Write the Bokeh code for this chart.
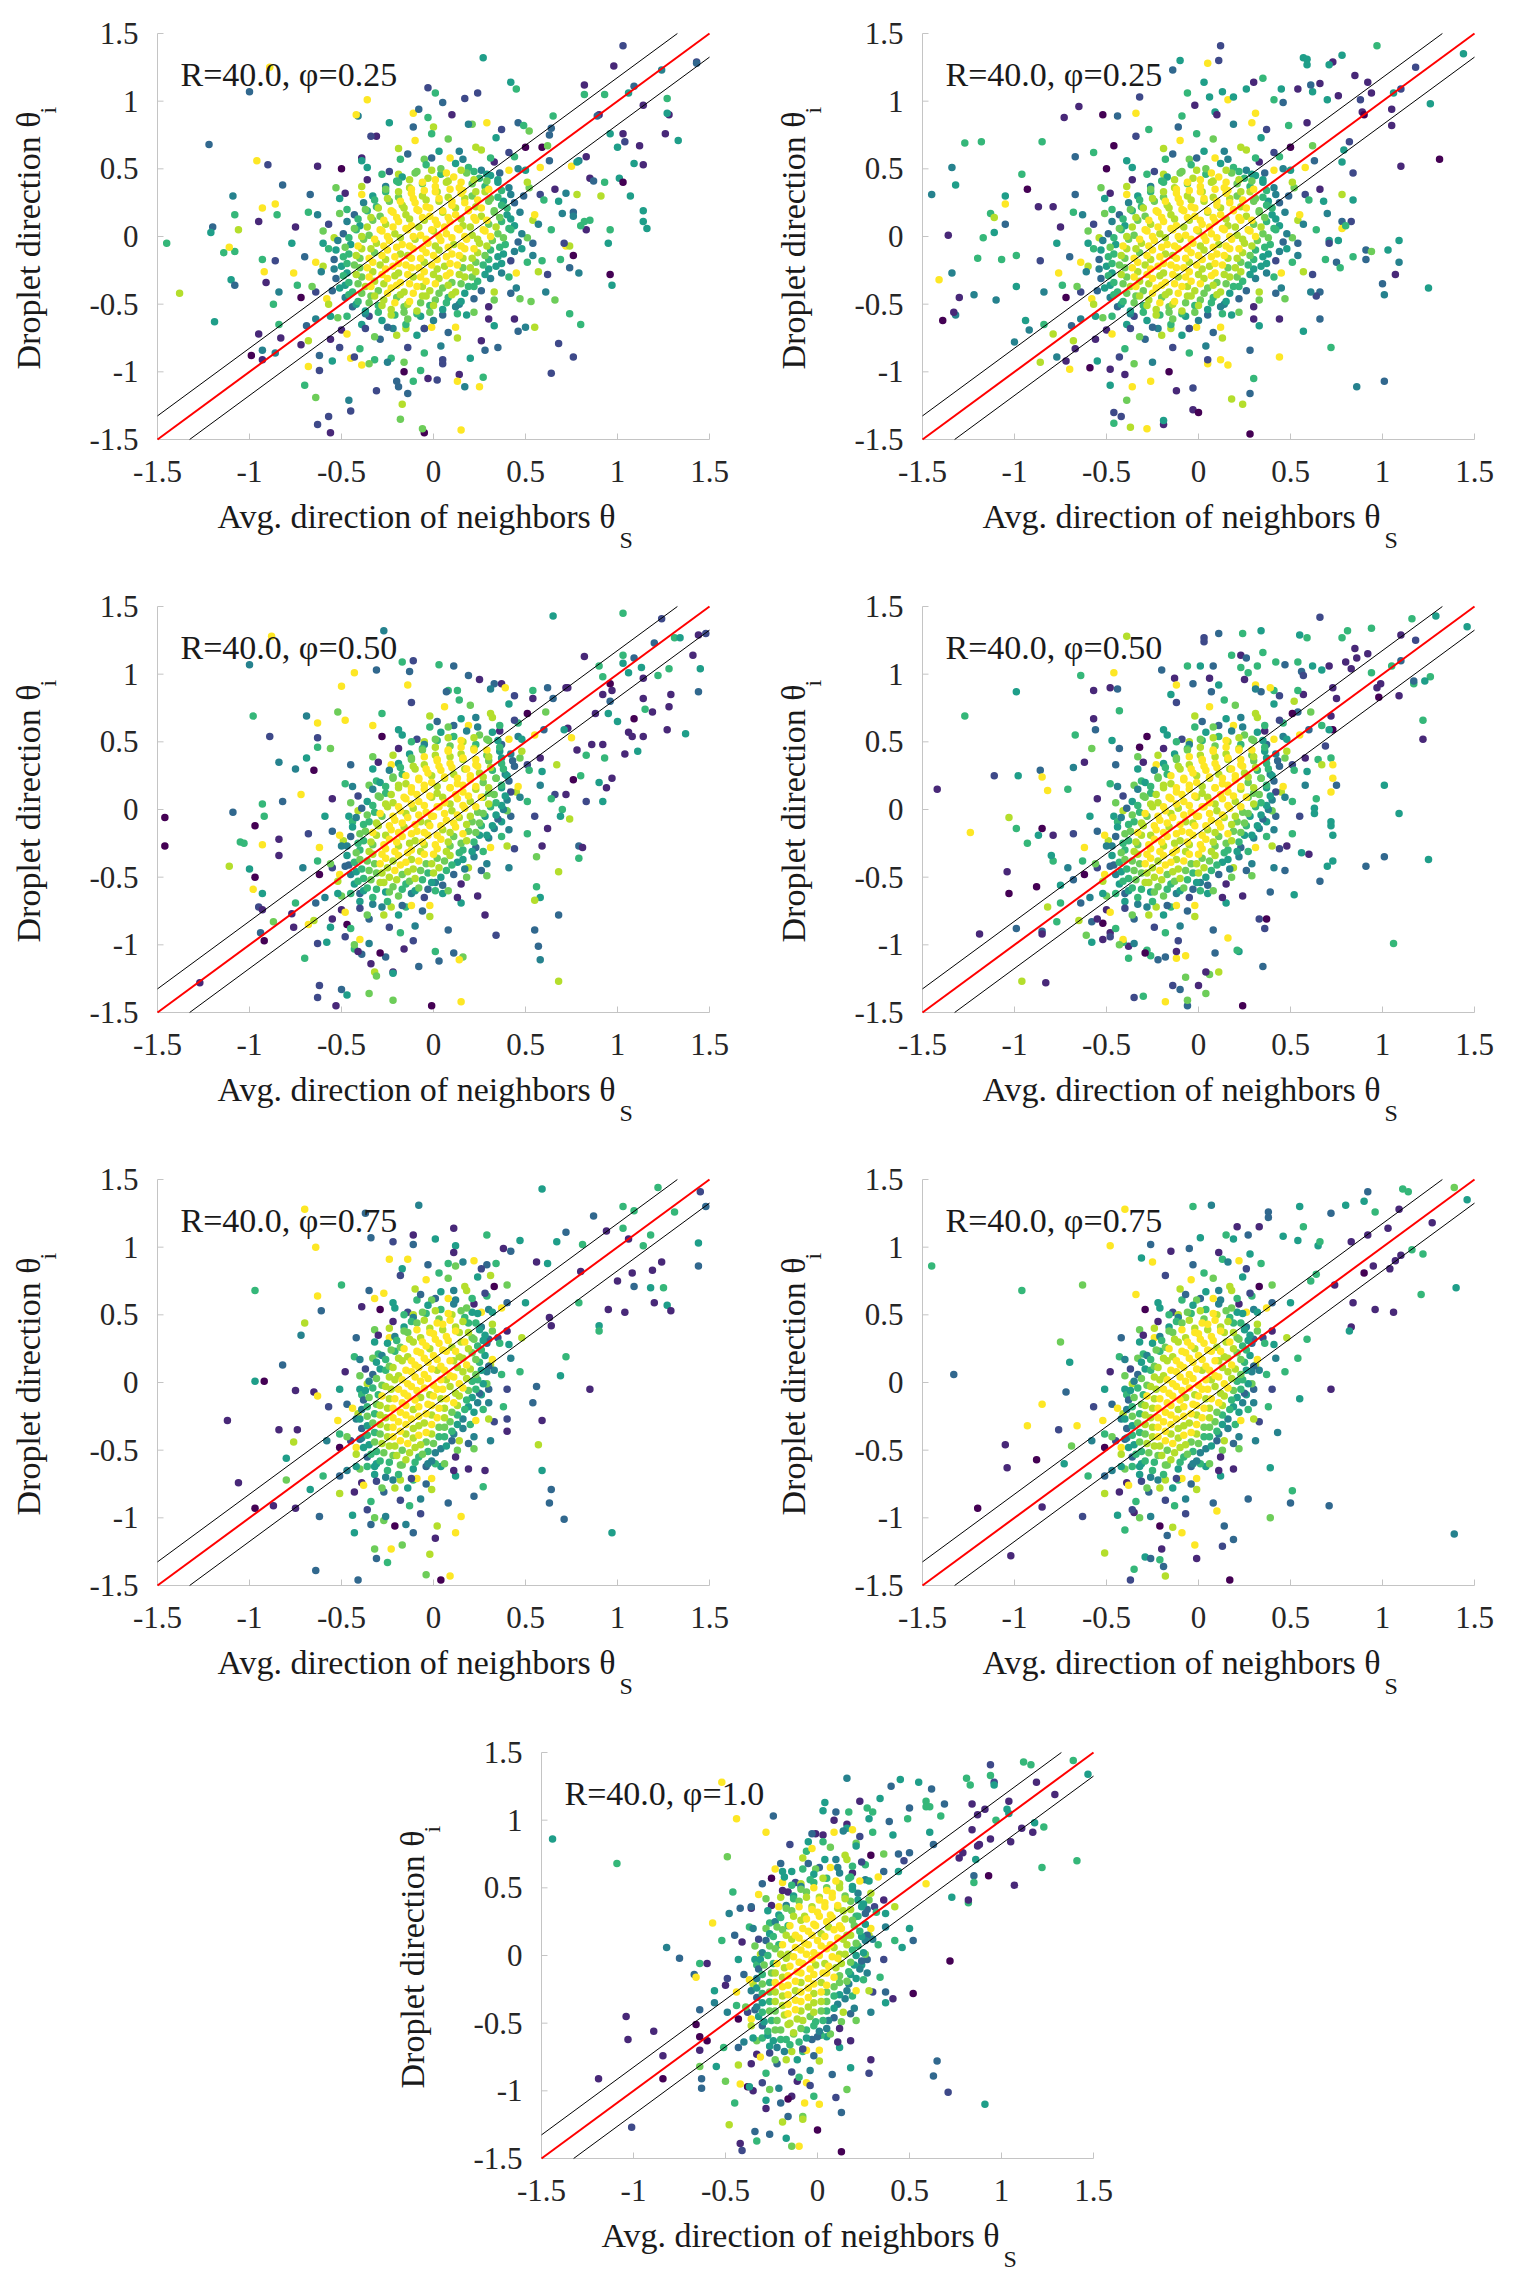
import math
from bokeh.plotting import figure
from bokeh.layouts import column, row
from bokeh.models import Label, ColumnDataSource, Range1d
from bokeh.core.properties import value
from bokeh.embed import file_html
from bokeh.resources import INLINE

# viridis colour bins (index 0..9)
PALETTE = ["#440154", "#482878", "#3e4989", "#31688e", "#26828e",
           "#1f9e89", "#35b779", "#6dcd59", "#b4de2c", "#fde725"]

TICKS = [-1.5, -1, -0.5, 0, 0.5, 1, 1.5]
TICK_LABELS = ["-1.5", "-1", "-0.5", "0", "0.5", "1", "1.5"]
AX_MIN, AX_MAX = -1.5, 1.5
BAND = math.pi / 18          # +/- 10 degree band around the diagonal

X_LABEL = "Avg. direction of neighbors θ"
X_SUB = "S"
Y_LABEL = "Droplet direction θ"
Y_SUB = "i"
R_VALUE = "40.0"
PHI_LABELS = ["0.25", "0.25", "0.50", "0.50", "0.75", "0.75", "1.0"]

# points: (theta_S*100, theta_i*100, colour bin)
OUT_TL = [(103,141,2),(143,129,2),(143,128,3),(98,126,1),(124,123,4),(109,111,3),(82,112,1),(82,105,6),(93,105,6),(106,106,5),(127,102,6),(114,97,1),(128,90,1),(127,91,5),(90,90,1),(89,89,3),(96,76,5),(103,76,1),(112,67,1),(126,76,1),(133,71,5),(104,70,2),(100,66,5),(83,59,1),(79,56,4),(109,54,5),(114,53,1),(75,52,9),(85,43,1),(87,41,3),(101,43,5),(93,40,6),(103,40,0),(72,32,4),(91,30,8),(107,30,5),(76,18,3),(76,15,4),(82,11,6),(85,12,6),(114,19,5),(114,11,5),(116,6,5),(96,5,6),(83,5,1),(72,-7,9),(74,-7,8),(95,-5,5),(76,-14,0),(74,-23,3),(79,-27,4),(96,-28,0),(97,-36,5),(59,-18,6),(66,-47,7),(53,-48,7),(74,-57,6),(80,-65,6),(55,-67,8),(50,-67,4),(46,-70,3),(68,-79,2),(76,-89,2),(64,-101,2),(35,-82,3),(26,-77,1),(27,-104,6),(25,-111,9),(15,-143,9),(17,-111,4),(14,-102,1),(13,-107,9),(20,-90,5),(5,-94,2),(2,-106,2),(-5,-145,0),(-6,-142,7),(-3,-105,1),(-7,-99,6),(-11,-107,6),(-18,-135,7),(-17,-124,8),(-14,-116,3),(-19,-111,3),(-20,-107,3),(-31,-114,2),(-16,-93,7),(-23,-90,6),(-32,-91,6),(-39,-95,9),(-45,-90,9),(-51,-82,2),(-46,-121,4),(-45,-129,2),(-56,-145,1),(-57,-133,2),(-63,-139,2),(-64,-119,7),(-70,-110,6),(-62,-99,2),(-68,-96,9),(-62,-88,3),(-72,-80,1),(-83,-75,1),(-86,-86,4),(-95,-72,1),(-93,-84,4),(-99,-88,0),(-93,-91,1),(-119,-63,5),(-138,-42,8),(-145,-5,6),(-114,-12,6),(-108,-11,6),(-111,-8,9),(-110,-32,5),(-108,-36,3),(-120,7,3),(-121,3,5),(-106,5,8),(-108,16,6),(-109,30,4),(-122,68,3),(-100,107,3),(-89,125,9),(-90,53,2),(-96,56,9),(-95,11,1),(-93,21,9),(-82,38,3),(-85,16,6),(-86,24,9),(-93,-17,6),(-92,-26,9),(-91,-34,1),(-87,-50,6),(-63,52,1),(-39,58,1),(-41,89,4),(-36,101,9),(-42,90,9),(-31,74,1),(-24,84,5),(-11,91,9),(-3,88,6),(-8,94,3),(-3,110,2),(1,106,6),(5,99,3),(17,102,2),(24,106,2),(27,132,5),(0,81,8),(21,83,7),(42,114,5),(45,109,6),(46,84,3),(65,89,6),(64,80,3),(52,78,7),(63,75,3),(59,66,0)]

OUT_TR = [(12,141,2),(11,130,2),(5,128,9),(-10,130,5),(-14,123,3),(97,141,6),(78,134,5),(57,132,5),(59,131,5),(59,127,5),(73,129,1),(71,127,5),(118,125,2),(144,135,5),(85,119,1),(92,114,1),(94,106,1),(110,109,2),(106,106,5),(126,98,5),(105,94,1),(105,82,1),(89,92,1),(90,90,0),(88,101,2),(76,104,1),(66,113,1),(62,107,5),(61,112,3),(54,109,1),(70,101,5),(59,84,1),(82,70,2),(79,64,5),(110,52,1),(131,57,0),(84,47,2),(84,27,5),(78,11,3),(83,11,2),(78,6,9),(76,-3,5),(71,-3,5),(109,-3,5),(103,-10,5),(91,-10,3),(91,-17,3),(94,-11,7),(84,-15,6),(109,-19,4),(75,-19,3),(77,-23,6),(107,-28,1),(100,-35,3),(101,-43,4),(125,-38,5),(66,-41,3),(64,-44,2),(66,-61,3),(57,-70,5),(72,-82,6),(44,-89,9),(101,-107,3),(86,-111,4),(28,-146,0),(24,-124,8),(18,-120,8),(30,-105,6),(28,-116,3),(16,-95,9),(12,-91,9),(5,-94,9),(-3,-112,2),(-3,-128,1),(0,-130,0),(-12,-114,1),(-19,-139,1),(-19,-136,5),(-28,-142,9),(-37,-141,8),(-46,-138,6),(-46,-130,2),(-42,-133,2),(-39,-121,7),(-48,-110,5),(-36,-111,9),(-26,-107,9),(-48,-98,1),(-40,-102,1),(-59,-97,0),(-70,-98,9),(-72,-92,1),(-86,-93,8),(-79,-72,8),(-77,-89,4),(-67,-83,1),(-100,-78,4),(-92,-69,4),(-94,-62,5),(-139,-62,0),(-132,-58,4),(-133,-56,1),(-130,-45,1),(-122,-43,4),(-110,-47,4),(-141,-32,9),(-134,-27,4),(-120,-16,6),(-107,-17,6),(-99,-14,6),(-99,-37,5),(-117,-1,6),(-136,1,1),(-111,3,5),(-105,9,3),(-113,17,6),(-111,14,8),(-105,24,9),(-105,30,5),(-145,31,4),(-132,38,5),(-134,51,4),(-127,69,6),(-118,70,6),(-85,70,6),(-96,46,6),(-93,35,0),(-87,22,1),(-79,22,1),(-73,88,1),(-65,96,1),(-52,90,0),(-44,89,3),(-34,91,9),(-32,103,2),(-67,59,3),(-46,67,0),(-57,62,6),(-27,79,6),(-9,89,6),(-2,97,1),(9,92,5),(16,101,9),(19,103,5),(13,107,5),(3,114,5),(30,114,1),(35,117,6),(26,109,5),(31,91,9),(41,101,6),(45,109,5),(46,99,3),(-6,106,6),(6,103,5)]

OUT_ML = [(65,143,5),(103,145,6),(124,141,2),(144,129,1),(148,130,2),(120,123,3),(131,127,6),(134,127,5),(141,114,1),(103,114,6),(82,113,1),(109,112,3),(103,108,5),(90,106,6),(106,101,5),(113,105,5),(128,104,6),(145,104,5),(114,97,1),(122,99,6),(92,98,6),(96,93,0),(97,88,1),(72,90,1),(62,90,3),(54,82,1),(65,82,3),(92,85,1),(96,80,3),(88,71,1),(95,71,5),(114,82,1),(144,87,3),(129,85,1),(128,76,1),(119,72,1),(115,74,6),(109,67,0),(100,65,5),(127,59,1),(137,56,5),(106,57,1),(108,54,1),(114,54,1),(111,43,5),(104,41,1),(92,48,1),(86,48,1),(78,44,1),(83,40,6),(93,38,6),(97,23,1),(94,16,1),(90,20,5),(92,6,5),(83,6,2),(76,22,0),(80,25,6),(75,53,9),(73,60,1),(66,11,2),(72,11,1),(70,0,6),(69,-5,5),(74,-7,8),(79,-27,3),(81,-28,1),(79,-36,6),(62,-14,1),(59,-27,1),(56,-35,7),(68,-46,8),(56,-57,6),(58,-65,5),(55,-67,8),(68,-78,3),(55,-89,3),(57,-101,3),(58,-111,4),(68,-127,8),(34,-93,2),(28,-78,1),(15,-142,9),(-1,-145,0),(16,-109,7),(14,-111,9),(11,-106,3),(3,-112,3),(1,-105,6),(-8,-116,3),(-16,-103,1),(-26,-109,3),(-22,-120,1),(-22,-121,5),(-32,-120,8),(-31,-123,7),(-35,-136,7),(-22,-141,7),(-39,-107,3),(-34,-114,1),(-43,-103,6),(-40,-96,9),(-41,-105,1),(-47,-137,5),(-50,-133,3),(-53,-145,1),(-63,-139,2),(-62,-130,2),(-63,-99,2),(-70,-110,6),(-56,-87,5),(-47,-85,0),(-76,-87,1),(-77,-77,1),(-68,-85,9),(-87,-83,7),(-92,-97,0),(-94,-91,3),(-95,-72,2),(-93,-74,1),(-127,-128,1),(-98,-59,9),(-93,-62,5),(-100,-44,5),(-97,-50,0),(-111,-42,8),(-105,-24,6),(-103,-25,6),(-93,-26,9),(-97,-12,0),(-92,-5,6),(-93,4,6),(-109,-2,3),(-146,-6,0),(-146,-27,0),(-82,6,3),(-84,-22,1),(-84,-34,1),(-84,35,4),(-89,54,2),(-98,69,6),(-100,107,4),(-69,69,4),(-63,64,9),(-63,53,2),(-63,46,6),(-69,38,5),(-75,30,4),(-65,29,0),(-72,11,9),(-56,45,7),(-52,72,7),(-48,66,9),(-50,91,9),(-43,101,9),(-31,103,3),(-27,132,4),(-88,128,9),(-14,92,9),(-13,102,3),(-11,110,2),(-17,109,6),(3,107,6),(11,106,3),(19,99,3),(33,93,3),(37,93,1),(8,88,6),(13,88,6),(-28,71,6),(-33,62,9),(73,90,1)]

OUT_MR = [(66,142,2),(116,141,6),(129,143,5),(146,135,5),(94,134,6),(81,132,6),(78,127,6),(110,129,1),(118,125,2),(55,129,5),(59,127,6),(85,119,1),(86,112,1),(92,115,1),(80,109,1),(83,104,1),(71,106,1),(67,103,5),(62,106,5),(54,109,6),(56,102,3),(57,99,2),(94,101,6),(105,106,6),(110,110,3),(126,98,6),(123,95,5),(117,93,6),(117,95,3),(99,93,1),(97,90,1),(109,84,1),(98,83,0),(73,90,1),(75,82,1),(57,85,1),(52,80,8),(54,72,3),(72,69,1),(67,62,6),(73,59,0),(122,66,6),(122,52,1),(69,47,2),(72,38,6),(65,37,6),(73,33,9),(73,23,9),(75,18,3),(72,13,9),(101,18,5),(109,-3,5),(63,1,5),(63,-3,5),(72,-9,5),(72,-12,5),(73,-19,5),(60,-33,1),(56,-32,5),(48,-27,1),(47,-45,3),(66,-53,3),(73,-38,5),(70,-42,5),(91,-42,3),(101,-35,3),(125,-37,5),(52,-63,5),(39,-61,3),(37,-81,0),(36,-88,2),(33,-81,2),(35,-116,3),(106,-99,6),(24,-145,0),(22,-105,5),(21,-104,6),(16,-95,9),(11,-120,8),(6,-122,7),(9,-106,3),(4,-120,1),(0,-130,1),(4,-136,7),(-6,-145,3),(-6,-141,7),(-10,-133,3),(-7,-124,7),(-14,-130,2),(-18,-142,9),(-30,-138,6),(-35,-139,2),(-12,-110,9),(-18,-109,3),(-12,-105,1),(-7,-108,9),(-22,-111,3),(-26,-108,6),(-28,-104,6),(-38,-110,6),(-38,-101,1),(-41,-98,6),(-41,-96,9),(-52,-96,1),(-61,-93,7),(-48,-91,1),(-52,-84,0),(-58,-83,3),(-85,-90,3),(-85,-92,1),(-99,-88,3),(-119,-92,1),(-96,-127,8),(-83,-128,1),(-77,-83,6),(-82,-72,8),(-88,-57,0),(-103,-62,0),(-104,-46,1),(-75,-56,5),(-68,-52,3),(-79,-38,6),(-80,-34,5),(-93,-25,6),(-99,-14,6),(-103,-6,8),(-124,-17,9),(-142,15,1),(-111,25,2),(-98,25,5),(-86,29,3),(-85,24,9),(-82,14,9),(-85,-14,0),(-87,-19,5),(-79,-19,1),(-99,87,5),(-127,69,6),(-64,99,6),(-57,88,1),(-48,90,1),(-44,89,3),(-46,101,9),(-39,128,8),(-43,73,6),(-57,67,1),(-56,59,3),(-67,55,6),(-58,45,7),(-47,51,5),(-43,45,3),(-32,46,0),(-68,31,4),(-71,15,6),(-62,35,1),(3,127,2),(3,124,2),(11,130,3),(24,130,6),(34,132,5),(23,114,1),(26,112,3),(35,116,6),(18,114,6),(8,106,3),(1,106,5),(-6,106,6),(-20,103,3),(-13,97,1),(-12,92,9),(-15,85,5),(-3,93,3),(6,97,1),(11,92,5),(23,105,6),(27,101,6),(32,106,6),(42,109,6),(47,107,3),(31,92,9),(41,88,6),(34,87,3)]

OUT_LL = [(59,143,5),(122,144,6),(145,141,2),(148,130,3),(103,130,6),(109,127,6),(87,123,3),(131,126,6),(-8,131,4),(-70,128,9),(-64,100,9),(-37,125,3),(-34,107,3),(-22,104,2),(-11,109,1),(-11,102,3),(1,106,5),(11,114,1),(12,101,5),(29,109,6),(47,105,5),(38,99,1),(42,97,3),(67,104,5),(81,102,6),(94,112,1),(103,114,6),(72,111,3),(118,109,6),(114,101,6),(106,106,1),(144,103,5),(124,89,1),(144,86,3),(108,81,1),(119,83,1),(80,82,1),(100,75,1),(109,71,3),(118,70,5),(125,70,6),(120,59,1),(127,57,5),(129,53,1),(95,54,1),(104,52,1),(90,42,5),(90,38,6),(72,19,6),(69,5,5),(85,-5,1),(56,-3,3),(54,-15,3),(59,-28,1),(57,-46,8),(59,-65,5),(64,-79,3),(63,-89,3),(71,-101,3),(97,-111,5),(40,-27,2),(40,-36,1),(28,-65,1),(27,-77,6),(22,-84,3),(15,-99,9),(12,-111,9),(2,-106,8),(1,-115,1),(9,-143,9),(4,-146,0),(-4,-142,7),(-11,-111,3),(-15,-105,4),(-17,-120,7),(-2,-127,8),(-23,-123,9),(-25,-133,6),(-31,-130,3),(-32,-123,7),(-41,-146,3),(-64,-139,3),(-43,-111,5),(-34,-105,3),(-27,-102,7),(-62,-99,3),(-75,-93,1),(-87,-91,1),(-97,-93,0),(-106,-74,1),(-80,-72,7),(-67,-79,5),(-80,-56,5),(-76,-44,8),(-74,-35,1),(-84,-35,1),(-112,-28,1),(-75,-6,1),(-92,1,0),(-97,1,5),(-82,13,3),(-65,-7,1),(-63,-10,9),(-97,68,6),(-72,35,4),(-70,44,8),(-61,53,3),(-63,64,9),(-50,72,6),(-35,68,3),(-27,66,9),(-32,62,9),(-39,56,1),(-24,91,9),(-14,91,9),(-17,84,5),(8,88,6),(12,86,7),(29,87,3),(31,79,8),(56,89,1),(62,88,5),(79,59,6),(63,48,1),(64,42,1)]

OUT_LR = [(111,143,6),(114,141,6),(139,144,7),(146,135,5),(92,141,3),(90,134,5),(80,131,5),(55,130,5),(57,115,6),(38,126,3),(38,122,3),(7,131,4),(-3,130,6),(-40,128,9),(72,125,3),(109,128,1),(96,126,6),(127,118,1),(103,114,1),(92,109,1),(83,104,1),(116,98,6),(122,95,6),(110,94,1),(107,90,1),(104,84,1),(95,86,1),(90,81,0),(74,72,1),(61,75,6),(64,80,6),(46,108,5),(54,105,5),(65,101,5),(66,104,6),(33,115,1),(21,115,1),(27,109,3),(19,106,5),(15,109,6),(1,107,5),(-5,99,3),(-15,97,1),(-26,102,3),(-48,101,9),(-31,92,5),(-25,89,9),(-96,68,6),(-145,86,6),(-63,72,7),(-34,65,9),(13,91,6),(28,95,5),(121,65,6),(140,70,5),(106,52,1),(96,54,1),(84,59,1),(83,41,1),(82,38,5),(59,32,6),(54,18,6),(72,-5,1),(55,-12,5),(43,-37,4),(39,-63,5),(51,-80,6),(50,-89,3),(39,-100,7),(27,-86,3),(14,-106,3),(19,-116,3),(13,-121,2),(-1,-130,1),(-2,-120,9),(17,-146,0),(10,-95,9),(-18,-143,8),(-19,-136,3),(-21,-131,6),(-29,-129,5),(-37,-146,2),(-35,-138,6),(-26,-130,3),(-20,-123,1),(-9,-111,9),(-14,-107,8),(-17,-113,3),(-51,-126,8),(-40,-109,6),(-63,-99,2),(-35,-96,1),(-102,-128,1),(-120,-93,0),(-104,-63,1),(-105,-46,1),(-88,-57,0),(-85,-92,1),(-93,-32,9),(-85,-16,9),(-72,-7,3),(-133,6,3),(-70,15,5),(-75,30,7),(-66,-32,9),(-76,-35,2),(-69,-47,7),(-73,-60,5),(71,-91,3),(139,-112,4)]

OUT_B = [(94,141,2),(112,143,6),(116,141,6),(139,144,6),(147,134,5),(94,133,6),(96,128,2),(96,126,5),(81,131,6),(83,126,6),(119,128,1),(129,119,1),(104,114,1),(84,112,1),(91,108,1),(87,104,1),(103,108,5),(104,105,5),(97,100,6),(118,98,5),(123,95,6),(111,94,1),(117,91,1),(105,84,1),(94,86,1),(88,82,1),(87,81,1),(84,93,1),(79,76,1),(77,72,1),(86,71,5),(141,70,6),(122,65,6),(93,59,0),(85,59,3),(85,54,6),(107,52,1),(73,43,5),(82,39,6),(82,41,1),(59,53,9),(52,11,3),(50,20,5),(46,6,5),(72,-4,0),(52,-28,0),(41,-32,1),(37,-35,5),(37,-27,3),(65,-78,3),(63,-89,3),(71,-101,2),(91,-110,5),(29,-77,1),(28,-87,2),(18,-83,5),(16,-99,7),(10,-105,2),(13,-116,3),(13,-145,0),(0,-129,0),(1,-110,9),(-2,-104,6),(-7,-109,9),(-6,-94,9),(-11,-93,1),(-10,-141,9),(-14,-141,7),(-17,-135,5),(-8,-119,7),(-8,-121,8),(-19,-123,8),(-16,-119,3),(-14,-104,1),(-20,-109,3),(-26,-132,3),(-34,-130,3),(-33,-137,6),(-42,-139,1),(-41,-144,2),(-48,-125,8),(-28,-113,1),(-28,-107,5),(-35,-100,1),(-42,-95,9),(-38,-97,0),(-45,-109,6),(-50,-93,7),(-63,-91,3),(-63,-98,3),(-55,-82,5),(-64,-82,7),(-64,-70,1),(-64,-60,0),(-60,-63,0),(-66,-51,0),(-64,-40,3),(-67,-14,3),(-64,-6,6),(-60,-6,1),(-66,-16,9),(-56,-26,5),(-50,-22,1),(-56,-35,4),(-84,-74,1),(-84,-91,0),(-89,-56,1),(-103,-62,1),(-104,-45,1),(-119,-91,1),(-101,-127,2),(-82,6,4),(-75,-2,3),(-144,86,5),(-109,68,6),(-49,73,7),(-44,101,9),(-28,91,9),(-24,103,3),(-52,128,9),(-46,47,6),(-48,31,4),(-57,24,9),(-52,11,6),(-45,15,3),(-42,35,3),(-36,35,1),(-30,53,3),(-32,45,9),(-23,64,9),(-20,68,3),(-19,54,9),(-16,47,1),(-14,62,5),(-6,77,6),(-5,84,5),(-1,90,1),(3,89,1),(3,107,5),(10,106,3),(16,97,1),(16,94,5),(9,91,9),(4,113,5),(23,114,1),(17,106,6),(16,131,4),(27,109,6),(30,106,6),(34,116,5),(40,125,3),(45,130,5),(55,128,5),(62,123,3),(59,114,6),(59,110,6),(61,110,6),(50,109,3),(49,101,6),(69,112,3),(67,103,6),(61,91,5),(63,82,3),(41,89,5),(39,99,3),(28,101,5),(50,76,3),(47,70,2),(44,75,3),(21,83,7)]

# medium-density band around each central cloud (outer, middle, inner)
HALO_025 = [(71,-5,2),(80,8,6),(70,17,4),(78,31,8),(66,35,1),(78,55,5),(63,56,3),(62,67,7),(50,66,0),(49,82,6),(37,79,2),(29,84,9),(19,83,4),(10,90,1),(-1,76,6),(-11,81,3),(-19,65,8),(-34,74,2),(-39,56,5),(-50,50,0),(-53,36,7),(-67,31,3),(-68,18,6),(-75,7,1),(-77,-5,5),(-86,-18,2),(-76,-27,9),(-84,-41,4),(-72,-45,0),(-84,-65,6),(-69,-66,3),(-68,-77,8),(-56,-76,1),(-55,-92,5),(-43,-89,2),(-35,-94,7),(-25,-93,4),(-16,-100,0),(-5,-86,6),(5,-91,2),(13,-75,8),(28,-84,3),(33,-66,5),(44,-61,1),(47,-46,7),(61,-41,4),(62,-28,2),(69,-17,6)]
FRINGE_025 = [(54,-5,3),(64,5,6),(54,12,8),(68,26,5),(58,31,2),(52,36,7),(58,51,9),(46,50,4),(44,59,6),(33,55,1),(34,73,5),(23,66,8),(14,63,4),(8,72,7),(-1,58,3),(-10,71,9),(-18,57,6),(-24,48,2),(-36,51,5),(-39,37,8),(-48,32,1),(-47,20,6),(-63,16,4),(-60,4,7),(-60,-5,5),(-70,-15,3),(-60,-22,8),(-74,-36,6),(-64,-41,2),(-58,-46,9),(-64,-61,4),(-52,-60,7),(-50,-69,1),(-39,-65,5),(-40,-83,6),(-29,-76,3),(-20,-73,8),(-14,-82,2),(-5,-68,6),(4,-81,4),(12,-67,9),(18,-58,5),(30,-61,1),(33,-47,7),(42,-42,3),(41,-30,6),(57,-26,8),(54,-14,4)]
RIM_025 = [(51,-1,7),(57,9,4),(55,16,9),(60,27,6),(49,30,3),(51,40,8),(50,49,5),(41,49,9),(41,62,2),(31,58,6),(26,64,8),(16,57,4),(9,58,9),(3,63,5),(-5,57,7),(-14,61,3),(-19,46,8),(-28,46,6),(-36,42,1),(-39,31,9),(-51,28,5),(-51,17,7),(-57,9,2),(-54,-1,8),(-57,-9,6),(-64,-19,9),(-61,-26,4),(-66,-37,7),(-55,-40,3),(-57,-50,8),(-56,-59,5),(-47,-59,6),(-47,-72,9),(-37,-68,2),(-32,-74,7),(-22,-68,4),(-15,-68,8),(-9,-73,5),(-1,-67,9),(8,-71,3),(13,-57,6),(22,-56,7),(30,-52,1),(33,-41,8),(45,-38,4),(45,-27,9),(51,-19,6),(48,-9,5)]

HALO_050 = [(55,-5,2),(64,8,6),(58,18,4),(67,33,8),(58,38,1),(71,59,5),(60,59,3),(61,72,7),(51,71,0),(54,88,6),(44,84,2),(39,90,9),(31,89,4),(25,96,1),(14,81,6),(7,87,3),(-2,69,8),(-12,79,2),(-19,59,5),(-28,54,0),(-33,39,7),(-45,33,3),(-48,19,6),(-55,8,1),(-59,-5,5),(-68,-18,2),(-62,-28,9),(-71,-43,4),(-62,-48,0),(-75,-69,6),(-64,-69,3),(-65,-82,8),(-55,-81,1),(-58,-98,5),(-48,-94,2),(-43,-100,7),(-35,-99,4),(-29,-106,0),(-18,-91,6),(-11,-97,2),(-2,-79,8),(8,-89,3),(15,-69,5),(24,-64,1),(29,-49,7),(41,-43,4),(44,-29,2),(51,-18,6)]
FRINGE_050 = [(42,-5,3),(51,6,6),(45,13,8),(59,28,5),(51,33,2),(47,38,7),(55,55,9),(46,54,4),(46,64,6),(36,58,1),(41,78,5),(31,71,8),(23,68,4),(20,77,7),(11,62,3),(6,76,9),(-2,61,6),(-9,52,2),(-17,55,5),(-22,40,8),(-30,35,1),(-31,21,6),(-44,17,4),(-45,5,7),(-46,-5,5),(-55,-16,3),(-49,-23,8),(-63,-38,6),(-55,-43,2),(-51,-48,9),(-59,-65,4),(-50,-64,7),(-50,-74,1),(-40,-68,5),(-45,-88,6),(-35,-81,3),(-27,-78,8),(-24,-87,2),(-15,-72,6),(-10,-86,4),(-2,-71,9),(5,-62,5),(13,-65,1),(18,-50,7),(26,-45,3),(27,-31,6),(40,-27,8),(41,-15,4)]
RIM_050 = [(40,-1,7),(47,9,4),(46,17,9),(52,29,6),(44,32,3),(48,43,8),(48,52,5),(41,52,9),(44,66,2),(36,62,6),(32,68,8),(24,61,4),(19,62,9),(15,67,5),(8,61,7),(2,65,3),(-5,50,8),(-12,50,6),(-19,45,1),(-23,33,9),(-33,30,5),(-35,18,7),(-41,10,2),(-41,-1,8),(-44,-9,6),(-51,-19,9),(-50,-27,4),(-56,-40,7),(-48,-42,3),(-52,-53,8),(-52,-62,5),(-45,-62,6),(-48,-76,9),(-40,-73,2),(-36,-78,7),(-28,-72,4),(-23,-72,8),(-19,-78,5),(-12,-71,9),(-6,-75,3),(1,-60,6),(8,-60,7),(15,-55,1),(19,-43,8),(29,-40,4),(31,-28,9),(37,-20,6),(37,-9,5)]

HALO_075 = [(40,-5,2),(47,8,6),(42,18,4),(48,33,8),(40,38,1),(50,59,5),(40,59,3),(40,72,7),(33,71,0),(34,88,6),(26,84,2),(22,90,9),(16,89,4),(11,96,1),(3,81,6),(-3,87,3),(-10,69,8),(-18,79,2),(-22,59,5),(-29,54,0),(-32,39,7),(-42,33,3),(-43,19,6),(-48,8,1),(-51,-5,5),(-57,-18,2),(-52,-28,9),(-58,-43,4),(-51,-48,0),(-60,-69,6),(-51,-69,3),(-51,-82,8),(-43,-81,1),(-44,-98,5),(-36,-94,2),(-32,-100,7),(-26,-99,4),(-21,-106,0),(-13,-91,6),(-7,-97,2),(-1,-79,8),(8,-89,3),(12,-69,5),(19,-64,1),(22,-49,7),(31,-43,4),(33,-29,2),(38,-18,6)]
FRINGE_075 = [(30,-5,3),(37,6,6),(31,13,8),(41,28,5),(35,33,2),(32,38,7),(37,55,9),(30,54,4),(29,64,6),(22,58,1),(24,78,5),(17,71,8),(11,68,4),(8,77,7),(1,62,3),(-4,76,9),(-9,61,6),(-14,52,2),(-21,55,5),(-24,40,8),(-30,35,1),(-30,21,6),(-40,17,4),(-40,5,7),(-40,-5,5),(-47,-16,3),(-41,-23,8),(-51,-38,6),(-45,-43,2),(-42,-48,9),(-47,-65,4),(-40,-64,7),(-39,-74,1),(-32,-68,5),(-34,-88,6),(-27,-81,3),(-21,-78,8),(-18,-87,2),(-11,-72,6),(-7,-86,4),(-1,-71,9),(4,-62,5),(11,-65,1),(13,-50,7),(19,-45,3),(20,-31,6),(30,-27,8),(30,-15,4)]
RIM_075 = [(29,-1,7),(33,9,4),(32,17,9),(36,29,6),(30,32,3),(32,43,8),(32,52,5),(26,52,9),(28,66,2),(21,62,6),(18,68,8),(12,61,4),(8,62,9),(4,67,5),(-1,61,7),(-7,65,3),(-11,50,8),(-16,50,6),(-22,45,1),(-24,33,9),(-32,30,5),(-33,18,7),(-37,10,2),(-36,-1,8),(-39,-9,6),(-44,-19,9),(-42,-27,4),(-47,-40,7),(-40,-42,3),(-42,-53,8),(-42,-62,5),(-36,-62,6),(-38,-76,9),(-31,-73,2),(-28,-78,7),(-22,-72,4),(-18,-72,8),(-14,-78,5),(-9,-71,9),(-4,-75,3),(1,-60,6),(6,-60,7),(12,-55,1),(14,-43,8),(22,-40,4),(23,-28,9),(27,-20,6),(26,-9,5)]

HALO_100 = [(36,-3,2),(42,11,6),(37,21,4),(42,36,8),(36,41,1),(44,62,5),(36,62,3),(36,75,7),(29,74,0),(30,91,6),(23,88,2),(19,93,9),(14,92,4),(9,100,1),(3,84,6),(-3,90,3),(-8,72,8),(-15,82,2),(-19,62,5),(-25,57,0),(-28,42,7),(-36,36,3),(-37,21,6),(-41,10,1),(-43,-3,5),(-49,-17,2),(-44,-27,9),(-49,-42,4),(-43,-47,0),(-51,-68,6),(-43,-68,3),(-43,-81,8),(-36,-80,1),(-37,-97,5),(-30,-94,2),(-26,-99,7),(-21,-98,4),(-16,-106,0),(-10,-90,6),(-4,-96,2),(1,-78,8),(8,-88,3),(12,-68,5),(18,-63,1),(21,-48,7),(29,-42,4),(30,-27,2),(34,-16,6)]
FRINGE_100 = [(27,-3,3),(33,8,6),(28,15,8),(37,31,5),(31,36,2),(28,41,7),(33,58,9),(26,56,4),(26,67,6),(19,61,1),(21,81,5),(15,74,8),(10,71,4),(7,80,7),(1,65,3),(-3,79,9),(-8,64,6),(-12,54,2),(-18,58,5),(-20,43,8),(-25,37,1),(-26,24,6),(-35,20,4),(-34,7,7),(-34,-3,5),(-40,-14,3),(-35,-21,8),(-44,-37,6),(-38,-42,2),(-36,-47,9),(-40,-64,4),(-33,-63,7),(-33,-73,1),(-26,-67,5),(-28,-87,6),(-22,-80,3),(-17,-77,8),(-14,-86,2),(-8,-71,6),(-4,-85,4),(1,-70,9),(5,-60,5),(11,-64,1),(13,-49,7),(18,-43,3),(19,-30,6),(28,-26,8),(27,-13,4)]
RIM_100 = [(26,1,7),(30,12,4),(29,20,9),(32,32,6),(27,34,3),(29,46,8),(28,55,5),(23,55,9),(24,69,2),(19,66,6),(16,71,8),(11,65,4),(7,65,9),(4,71,5),(-1,64,7),(-5,68,3),(-9,53,8),(-14,52,6),(-19,48,1),(-21,36,9),(-27,33,5),(-28,20,7),(-32,12,2),(-31,1,8),(-33,-7,6),(-37,-18,9),(-36,-26,4),(-39,-38,7),(-34,-40,3),(-36,-52,8),(-35,-61,5),(-30,-61,6),(-31,-75,9),(-26,-72,2),(-23,-77,7),(-18,-71,4),(-14,-71,8),(-11,-77,5),(-6,-70,9),(-2,-74,3),(2,-59,6),(7,-58,7),(12,-54,1),(14,-42,8),(20,-39,4),(21,-26,9),(25,-18,6),(24,-7,5)]

# dense central clouds, one per coupling value
CORE_025 = [(-4,53,6),(4,50,7),(12,54,5),(19,51,6),(26,49,4),
(-17,44,5),(-10,47,7),(-3,43,8),(4,46,6),(11,44,9),(18,47,7),(25,43,6),(31,45,5),(36,47,3),
(-26,37,4),(-19,40,6),(-13,36,8),(-6,39,7),(1,37,9),(7,40,8),(14,36,9),(21,39,7),(28,37,6),(35,40,5),(41,36,4),
(-33,30,5),(-26,33,6),(-19,29,7),(-12,32,9),(-6,30,8),(1,33,9),(8,29,8),(15,32,9),(21,30,7),(28,33,8),(35,29,6),(42,31,4),
(-38,25,4),(-31,22,6),(-24,26,7),(-17,23,8),(-10,25,9),(-4,22,9),(3,26,8),(10,23,9),(17,25,9),(23,22,8),(30,26,7),(37,23,6),(44,25,3),
(-43,16,3),(-36,19,6),(-29,15,7),(-22,18,9),(-15,16,8),(-8,19,9),(-2,15,9),(5,18,8),(12,16,9),(19,19,9),(26,15,8),(33,18,7),(40,16,5),(47,18,4),
(-47,11,4),(-40,8,5),(-33,12,7),(-26,9,8),(-19,11,9),(-12,8,9),(-5,12,8),(2,9,9),(9,11,9),(16,8,8),(23,12,9),(30,9,7),(37,11,6),(44,8,5),
(-49,2,3),(-42,5,6),(-35,1,7),(-28,4,9),(-21,2,8),(-14,5,9),(-7,1,9),(0,4,8),(7,2,9),(14,5,9),(21,1,8),(28,4,9),(35,2,7),(42,5,6),(48,2,4),
(-52,-3,4),(-45,-6,5),(-38,-2,7),(-31,-5,8),(-24,-3,9),(-17,-6,9),(-10,-2,8),(-3,-5,9),(4,-3,9),(11,-6,8),(18,-2,9),(25,-5,8),(32,-3,7),(39,-6,6),(46,-4,3),
(-53,-10,5),(-46,-13,6),(-39,-9,8),(-32,-12,7),(-25,-10,9),(-18,-13,8),(-11,-9,9),(-4,-12,9),(3,-10,8),(10,-13,9),(17,-9,9),(24,-12,8),(31,-10,6),(38,-13,5),(44,-11,4),
(-54,-17,3),(-47,-20,6),(-40,-16,7),(-33,-19,9),(-26,-17,8),(-19,-20,9),(-12,-16,9),(-5,-19,8),(2,-17,9),(9,-20,9),(16,-16,8),(23,-19,7),(30,-17,6),(37,-20,5),(42,-18,2),
(-54,-24,4),(-47,-27,5),(-40,-23,7),(-33,-26,8),(-26,-24,9),(-19,-27,8),(-12,-23,9),(-5,-26,9),(2,-24,8),(9,-27,9),(16,-23,7),(23,-26,8),(30,-24,5),(37,-27,4),
(-53,-31,3),(-46,-34,6),(-39,-30,7),(-32,-33,8),(-25,-31,9),(-18,-34,9),(-11,-30,8),(-4,-33,9),(3,-31,8),(10,-34,7),(17,-30,8),(24,-33,6),(31,-31,4),
(-51,-38,5),(-44,-41,6),(-37,-37,8),(-30,-40,7),(-23,-38,9),(-16,-41,8),(-9,-37,9),(-2,-40,8),(5,-38,7),(12,-41,8),(19,-37,6),(26,-40,3),
(-48,-45,4),(-41,-48,6),(-34,-44,7),(-27,-47,8),(-20,-45,7),(-13,-48,9),(-6,-44,8),(1,-47,7),(8,-45,6),(15,-48,5),(22,-46,3),
(-44,-52,3),(-37,-55,5),(-30,-51,6),(-23,-54,8),(-16,-52,7),(-9,-55,8),(-2,-51,6),(5,-54,5),(12,-52,4),
(-35,-59,2),(-28,-62,5),(-21,-58,6),(-14,-61,7),(-7,-59,5),(0,-62,4),
(-25,-67,3),(-15,-65,6),(-5,-68,2)]
FILL_025 = [(-9,48,7),(-1,49,8),(7,47,9),(15,49,8),(22,48,6),(29,46,5),
(-20,41,6),(-13,42,8),(-6,40,9),(1,42,9),(8,41,8),(15,40,9),(22,42,8),(29,41,7),(35,42,5),
(-26,35,7),(-19,33,8),(-12,35,9),(-5,34,9),(2,33,8),(9,35,9),(16,34,9),(23,33,8),(30,35,9),(37,34,6),
(-32,27,6),(-25,28,8),(-18,26,9),(-11,28,9),(-4,27,8),(3,28,9),(10,26,9),(17,28,8),(24,27,9),(31,28,7),(38,26,5),
(-37,20,7),(-30,21,8),(-23,19,9),(-16,21,8),(-9,20,9),(-2,21,9),(5,19,9),(12,21,8),(19,20,9),(26,21,9),(33,19,7),(40,21,6),
(-41,13,6),(-34,14,8),(-27,12,9),(-20,14,9),(-13,13,8),(-6,14,9),(1,12,9),(8,14,9),(15,13,8),(22,14,9),(29,12,9),(36,14,7),(42,13,5),
(-43,6,7),(-36,7,8),(-29,5,9),(-22,7,9),(-15,6,9),(-8,7,8),(-1,5,9),(6,7,9),(13,6,9),(20,7,8),(27,5,9),(34,7,8),(41,6,6),
(-46,-1,6),(-39,0,8),(-32,-2,9),(-25,0,9),(-18,-1,8),(-11,0,9),(-4,-2,9),(3,0,9),(10,-1,9),(17,0,9),(24,-2,8),(31,0,9),(38,-1,7),
(-48,-8,7),(-41,-7,9),(-34,-9,8),(-27,-7,9),(-20,-8,9),(-13,-7,9),(-6,-9,9),(1,-7,8),(8,-8,9),(15,-7,9),(22,-9,9),(29,-7,8),(36,-8,6),
(-49,-15,6),(-42,-14,8),(-35,-16,9),(-28,-14,9),(-21,-15,9),(-14,-14,8),(-7,-16,9),(0,-14,9),(7,-15,9),(14,-14,9),(21,-16,8),(28,-14,7),(35,-15,5),
(-50,-22,5),(-43,-21,7),(-36,-23,9),(-29,-21,8),(-22,-22,9),(-15,-21,9),(-8,-23,9),(-1,-21,9),(6,-22,8),(13,-21,9),(20,-23,8),(27,-21,6),(34,-22,5),
(-49,-29,6),(-42,-28,8),(-35,-30,9),(-28,-28,9),(-21,-29,8),(-14,-28,9),(-7,-30,9),(0,-28,8),(7,-29,9),(14,-28,8),(21,-30,7),(28,-28,5),
(-48,-36,5),(-41,-35,7),(-34,-37,9),(-27,-35,8),(-20,-36,9),(-13,-35,9),(-6,-37,8),(1,-35,9),(8,-36,8),(15,-35,7),(22,-37,6),
(-46,-43,6),(-39,-42,7),(-32,-44,8),(-25,-42,9),(-18,-43,8),(-11,-42,9),(-4,-44,8),(3,-42,7),(10,-43,8),(17,-42,5),
(-42,-50,5),(-35,-49,7),(-28,-51,8),(-21,-49,9),(-14,-50,8),(-7,-49,7),(0,-51,8),(7,-49,6),(14,-50,4),
(-37,-57,4),(-30,-56,6),(-23,-58,8),(-16,-56,7),(-9,-57,6),(-2,-56,7),(5,-58,3)]

CORE_050 = [(4,57,5),(11,54,6),(18,58,4),(25,55,7),(32,57,5),
(-5,48,4),(2,51,6),(9,47,7),(16,50,8),(23,48,6),(30,51,7),(37,48,3),
(-13,41,5),(-6,44,7),(1,40,8),(8,43,9),(15,41,8),(22,44,9),(29,40,7),(36,43,5),(42,41,4),
(-19,34,5),(-12,37,7),(-5,33,8),(2,36,9),(9,34,9),(16,37,8),(23,33,9),(30,36,7),(37,34,6),(43,36,3),
(-24,29,4),(-17,26,6),(-10,30,8),(-3,27,9),(4,29,9),(11,26,8),(18,30,9),(25,27,8),(32,29,6),(39,26,4),
(-29,20,5),(-22,23,7),(-15,19,8),(-8,22,9),(-1,20,9),(6,23,8),(13,19,9),(20,22,9),(27,20,7),(34,23,6),(41,21,3),
(-33,15,4),(-26,12,6),(-19,16,8),(-12,13,9),(-5,15,9),(2,12,8),(9,16,9),(16,13,9),(23,15,8),(30,12,7),(37,16,5),(42,13,2),
(-36,6,5),(-29,9,7),(-22,5,8),(-15,8,9),(-8,6,9),(-1,9,8),(6,5,9),(13,8,9),(20,6,8),(27,9,7),(34,5,6),(40,7,4),
(-39,1,3),(-32,-2,6),(-25,2,8),(-18,-1,9),(-11,1,8),(-4,-2,9),(3,2,9),(10,-1,8),(17,1,9),(24,-2,7),(31,2,6),(38,0,4),
(-42,-6,4),(-35,-9,6),(-28,-5,7),(-21,-8,9),(-14,-6,9),(-7,-9,8),(0,-5,9),(7,-8,9),(14,-6,8),(21,-9,7),(28,-5,5),(35,-7,3),
(-44,-13,5),(-37,-16,7),(-30,-12,8),(-23,-15,9),(-16,-13,8),(-9,-16,9),(-2,-12,9),(5,-15,8),(12,-13,9),(19,-16,7),(26,-12,6),(33,-14,4),
(-45,-20,3),(-38,-23,6),(-31,-19,8),(-24,-22,9),(-17,-20,9),(-10,-23,8),(-3,-19,9),(4,-22,9),(11,-20,7),(18,-23,8),(25,-19,5),(30,-21,4),
(-47,-27,4),(-40,-30,6),(-33,-26,7),(-26,-29,9),(-19,-27,8),(-12,-30,9),(-5,-26,8),(2,-29,9),(9,-27,7),(16,-30,6),(23,-28,3),
(-47,-34,5),(-40,-37,7),(-33,-33,8),(-26,-36,9),(-19,-34,9),(-12,-37,8),(-5,-33,9),(2,-36,7),(9,-34,8),(16,-37,5),(22,-35,4),
(-46,-41,3),(-39,-44,6),(-32,-40,7),(-25,-43,8),(-18,-41,9),(-11,-44,8),(-4,-40,7),(3,-43,8),(10,-41,6),(17,-44,4),
(-45,-48,4),(-38,-51,6),(-31,-47,7),(-24,-50,8),(-17,-48,7),(-10,-51,8),(-3,-47,6),(4,-50,5),(11,-48,3),
(-43,-55,5),(-36,-58,6),(-29,-54,8),(-22,-57,7),(-15,-55,6),(-8,-58,7),(-1,-54,5),(5,-56,3),
(-40,-62,3),(-33,-65,6),(-26,-61,5),(-19,-64,7),(-12,-62,4),(-5,-65,2),
(-33,-70,4),(-25,-68,6),(-17,-71,3)]
FILL_050 = [(1,52,7),(8,53,8),(15,51,9),(22,53,8),(29,52,7),(35,51,5),
(-6,45,6),(1,46,8),(8,44,9),(15,46,9),(22,45,8),(29,44,9),(36,46,6),
(-12,38,7),(-5,39,9),(2,37,9),(9,39,8),(16,38,9),(23,37,9),(30,39,8),(37,38,5),
(-18,31,6),(-11,32,8),(-4,30,9),(3,32,9),(10,31,9),(17,30,8),(24,32,9),(31,31,8),(38,30,6),
(-22,24,7),(-15,25,9),(-8,23,9),(-1,25,8),(6,24,9),(13,23,9),(20,25,9),(27,24,8),(34,23,7),(40,25,5),
(-26,17,6),(-19,18,8),(-12,16,9),(-5,18,9),(2,17,8),(9,16,9),(16,18,9),(23,17,9),(30,16,8),(37,18,6),
(-30,10,7),(-23,11,8),(-16,9,9),(-9,11,9),(-2,10,9),(5,9,8),(12,11,9),(19,10,9),(26,9,9),(33,11,7),(39,10,5),
(-33,3,6),(-26,4,8),(-19,2,9),(-12,4,9),(-5,3,9),(2,2,9),(9,4,8),(16,3,9),(23,2,9),(30,4,8),(37,3,5),
(-36,-4,7),(-29,-3,9),(-22,-5,9),(-15,-3,8),(-8,-4,9),(-1,-5,9),(6,-3,9),(13,-4,9),(20,-5,8),(27,-3,7),(34,-4,5),
(-38,-11,6),(-31,-10,8),(-24,-12,9),(-17,-10,9),(-10,-11,9),(-3,-10,8),(4,-12,9),(11,-10,9),(18,-11,8),(25,-10,7),(32,-12,5),
(-40,-18,7),(-33,-17,9),(-26,-19,8),(-19,-17,9),(-12,-18,9),(-5,-17,9),(2,-19,9),(9,-17,8),(16,-18,9),(23,-17,7),(29,-19,5),
(-41,-25,6),(-34,-24,8),(-27,-26,9),(-20,-24,9),(-13,-25,8),(-6,-24,9),(1,-26,9),(8,-24,8),(15,-25,7),(22,-24,6),
(-42,-32,7),(-35,-31,8),(-28,-33,9),(-21,-31,9),(-14,-32,9),(-7,-31,8),(0,-33,9),(7,-31,8),(14,-32,6),(21,-31,5),
(-43,-39,6),(-36,-38,7),(-29,-40,9),(-22,-38,8),(-15,-39,9),(-8,-38,9),(-1,-40,8),(6,-38,7),(13,-39,5),
(-42,-46,5),(-35,-45,7),(-28,-47,8),(-21,-45,9),(-14,-46,8),(-7,-45,7),(0,-47,8),(7,-45,6),
(-41,-53,6),(-34,-52,7),(-27,-54,8),(-20,-52,8),(-13,-53,7),(-6,-52,6),(1,-54,4),
(-38,-60,5),(-31,-59,6),(-24,-61,7),(-17,-59,6),(-10,-60,5),(-3,-59,3)]

CORE_075 = [(-3,57,5),(4,54,6),(11,58,4),(18,55,7),
(-11,48,4),(-4,51,6),(3,47,7),(10,50,8),(17,48,6),(24,51,5),
(-16,41,5),(-9,44,7),(-2,40,8),(5,43,9),(12,41,8),(19,44,6),(26,41,4),
(-21,34,4),(-14,37,7),(-7,33,8),(0,36,9),(7,34,9),(14,37,8),(21,33,7),(28,35,5),
(-25,29,5),(-18,26,7),(-11,30,8),(-4,27,9),(3,29,9),(10,26,8),(17,30,9),(24,27,6),(29,29,3),
(-28,20,4),(-21,23,6),(-14,19,8),(-7,22,9),(0,20,9),(7,23,9),(14,19,8),(21,22,7),(28,20,5),
(-31,15,5),(-24,12,7),(-17,16,8),(-10,13,9),(-3,15,9),(4,12,9),(11,16,8),(18,13,9),(25,15,6),(30,12,3),
(-33,6,3),(-26,9,6),(-19,5,8),(-12,8,9),(-5,6,9),(2,9,8),(9,5,9),(16,8,8),(23,6,7),(29,8,4),
(-35,1,4),(-28,-2,7),(-21,2,8),(-14,-1,9),(-7,1,9),(0,-2,9),(7,2,8),(14,-1,9),(21,1,6),(27,-1,5),
(-37,-6,5),(-30,-9,6),(-23,-5,8),(-16,-8,9),(-9,-6,9),(-2,-9,8),(5,-5,9),(12,-8,8),(19,-6,7),(25,-8,3),
(-38,-13,3),(-31,-16,7),(-24,-12,8),(-17,-15,9),(-10,-13,9),(-3,-16,9),(4,-12,8),(11,-15,9),(18,-13,6),(24,-15,4),
(-39,-20,4),(-32,-23,6),(-25,-19,8),(-18,-22,9),(-11,-20,8),(-4,-23,9),(3,-19,9),(10,-22,7),(17,-20,6),(22,-22,5),
(-40,-27,5),(-33,-30,7),(-26,-26,8),(-19,-29,9),(-12,-27,9),(-5,-30,8),(2,-26,9),(9,-29,7),(16,-27,4),
(-39,-34,3),(-32,-37,6),(-25,-33,8),(-18,-36,9),(-11,-34,8),(-4,-37,9),(3,-33,7),(10,-36,6),(16,-34,4),
(-39,-41,4),(-32,-44,7),(-25,-40,8),(-18,-43,9),(-11,-41,8),(-4,-44,7),(3,-40,6),(10,-43,3),
(-38,-48,5),(-31,-51,6),(-24,-47,8),(-17,-50,7),(-10,-48,8),(-3,-51,6),(4,-49,4),
(-36,-55,3),(-29,-58,6),(-22,-54,7),(-15,-57,8),(-8,-55,6),(-1,-58,4),
(-32,-62,5),(-25,-65,6),(-18,-61,7),(-11,-64,5),(-4,-62,3),
(-26,-70,4),(-19,-68,6),(-12,-71,2)]
FILL_075 = [(-6,52,7),(1,53,8),(8,51,9),(15,53,7),(21,52,5),
(-12,45,6),(-5,46,8),(2,44,9),(9,46,9),(16,45,8),(23,44,6),
(-16,38,7),(-9,39,9),(-2,37,9),(5,39,8),(12,38,9),(19,37,8),(25,39,5),
(-20,31,6),(-13,32,8),(-6,30,9),(1,32,9),(8,31,9),(15,30,8),(22,32,7),(27,31,5),
(-23,24,7),(-16,25,9),(-9,23,9),(-2,25,8),(5,24,9),(12,23,9),(19,25,8),(26,24,6),
(-26,17,6),(-19,18,8),(-12,16,9),(-5,18,9),(2,17,9),(9,16,9),(16,18,8),(23,17,7),
(-29,10,5),(-22,11,8),(-15,9,9),(-8,11,9),(-1,10,9),(6,9,9),(13,11,8),(20,10,8),(26,9,5),
(-31,3,7),(-24,4,8),(-17,2,9),(-10,4,9),(-3,3,9),(4,2,9),(11,4,9),(18,3,8),(24,2,6),
(-33,-4,6),(-26,-3,8),(-19,-5,9),(-12,-3,9),(-5,-4,9),(2,-5,9),(9,-3,8),(16,-4,9),(23,-5,6),
(-35,-11,7),(-28,-10,9),(-21,-12,9),(-14,-10,9),(-7,-11,8),(0,-10,9),(7,-12,9),(14,-10,8),(21,-11,5),
(-36,-18,6),(-29,-17,8),(-22,-19,9),(-15,-17,9),(-8,-18,9),(-1,-17,9),(6,-19,8),(13,-17,8),(19,-18,5),
(-36,-25,7),(-29,-24,8),(-22,-26,9),(-15,-24,9),(-8,-25,9),(-1,-24,8),(6,-26,8),(13,-24,6),
(-36,-32,5),(-29,-31,8),(-22,-33,9),(-15,-31,9),(-8,-32,8),(-1,-31,9),(6,-33,7),(13,-31,5),
(-36,-39,6),(-29,-38,7),(-22,-40,9),(-15,-38,8),(-8,-39,9),(-1,-38,8),(6,-40,6),(11,-38,4),
(-35,-46,5),(-28,-45,8),(-21,-47,8),(-14,-45,9),(-7,-46,8),(0,-45,7),(7,-47,5),
(-34,-53,6),(-27,-52,7),(-20,-54,8),(-13,-52,8),(-6,-53,7),(1,-52,4),
(-31,-60,5),(-24,-59,6),(-17,-61,7),(-10,-59,6),(-3,-60,4)]

CORE_100 = [(-2,60,5),(5,57,6),(12,61,4),(18,58,6),
(-9,51,4),(-2,54,6),(5,50,7),(12,53,8),(19,51,5),
(-13,44,5),(-6,47,7),(1,43,8),(8,46,9),(15,44,7),(22,46,4),
(-17,37,4),(-10,40,7),(-3,36,8),(4,39,9),(11,37,9),(18,40,7),(25,38,5),
(-21,30,5),(-14,33,7),(-7,29,8),(0,32,9),(7,30,9),(14,33,8),(21,29,6),(26,31,3),
(-23,25,4),(-16,22,6),(-9,26,8),(-2,23,9),(5,25,9),(12,22,9),(19,26,7),(26,23,5),
(-26,16,5),(-19,19,7),(-12,15,9),(-5,18,9),(2,16,8),(9,19,9),(16,15,8),(23,18,6),(27,15,3),
(-28,11,3),(-21,8,6),(-14,12,8),(-7,9,9),(0,11,9),(7,8,9),(14,12,8),(21,9,7),(26,11,4),
(-30,2,4),(-23,5,7),(-16,1,8),(-9,4,9),(-2,2,9),(5,5,9),(12,1,8),(19,4,6),(25,2,5),
(-31,-3,5),(-24,-6,6),(-17,-2,8),(-10,-5,9),(-3,-3,9),(4,-6,8),(11,-2,9),(18,-5,7),(24,-4,3),
(-32,-10,3),(-25,-13,7),(-18,-9,8),(-11,-12,9),(-4,-10,9),(3,-13,9),(10,-9,8),(17,-12,6),(23,-10,4),
(-33,-17,4),(-26,-20,6),(-19,-16,8),(-12,-19,9),(-5,-17,9),(2,-20,8),(9,-16,9),(16,-19,7),(21,-17,5),
(-33,-24,5),(-26,-27,7),(-19,-23,9),(-12,-26,8),(-5,-24,9),(2,-27,9),(9,-23,7),(16,-26,4),
(-33,-31,3),(-26,-34,6),(-19,-30,8),(-12,-33,9),(-5,-31,9),(2,-34,8),(9,-30,6),(15,-32,4),
(-33,-38,4),(-26,-41,7),(-19,-37,8),(-12,-40,9),(-5,-38,8),(2,-41,7),(9,-39,5),
(-32,-45,5),(-25,-48,6),(-18,-44,8),(-11,-47,8),(-4,-45,7),(3,-48,6),(9,-46,3),
(-30,-52,3),(-23,-55,7),(-16,-51,8),(-9,-54,7),(-2,-52,6),(5,-54,4),
(-27,-59,5),(-20,-62,6),(-13,-58,7),(-6,-61,5),(0,-60,3),
(-22,-68,4),(-15,-66,6),(-8,-69,2)]
FILL_100 = [(-4,56,6),(3,57,8),(10,55,9),(17,57,6),
(-9,49,7),(-2,50,9),(5,48,9),(12,50,8),(19,49,5),
(-13,42,6),(-6,43,8),(1,41,9),(8,43,9),(15,42,8),(22,41,5),
(-17,35,7),(-10,36,9),(-3,34,9),(4,36,9),(11,35,8),(18,34,8),(24,36,5),
(-20,28,6),(-13,29,8),(-6,27,9),(1,29,9),(8,28,9),(15,27,8),(22,29,6),
(-22,21,7),(-15,22,9),(-8,20,9),(-1,22,9),(6,21,8),(13,20,9),(20,22,7),
(-24,14,6),(-17,15,8),(-10,13,9),(-3,15,9),(4,14,9),(11,13,9),(18,15,8),(24,14,5),
(-26,7,7),(-19,8,9),(-12,6,9),(-5,8,9),(2,7,9),(9,6,8),(16,8,8),(22,7,6),
(-27,0,6),(-20,1,8),(-13,-1,9),(-6,1,9),(1,0,9),(8,-1,9),(15,1,8),(21,0,5),
(-29,-7,7),(-22,-6,9),(-15,-8,9),(-8,-6,9),(-1,-7,8),(6,-8,9),(13,-6,8),(20,-7,5),
(-30,-14,6),(-23,-13,8),(-16,-15,9),(-9,-13,9),(-2,-14,9),(5,-13,9),(12,-15,7),(18,-14,5),
(-30,-21,7),(-23,-20,9),(-16,-22,9),(-9,-20,8),(-2,-21,9),(5,-22,9),(12,-20,7),(17,-21,4),
(-30,-28,6),(-23,-27,8),(-16,-29,9),(-9,-27,9),(-2,-28,8),(5,-27,7),(12,-29,5),
(-30,-35,5),(-23,-34,8),(-16,-36,9),(-9,-34,9),(-2,-35,8),(5,-34,7),(11,-36,4),
(-30,-42,6),(-23,-41,7),(-16,-43,9),(-9,-41,8),(-2,-42,8),(5,-41,6),
(-29,-49,5),(-22,-48,7),(-15,-50,8),(-8,-48,8),(-1,-49,6),(6,-48,4),
(-27,-56,6),(-20,-55,7),(-13,-57,8),(-6,-55,6),(1,-56,4),
(-24,-63,5),(-17,-62,6),(-10,-64,6),(-3,-62,3)]

PANEL_OUTLIERS = [OUT_TL, OUT_TR, OUT_ML, OUT_MR, OUT_LL, OUT_LR, OUT_B]
BANDS = {"0.25": HALO_025 + FRINGE_025 + RIM_025, "0.50": HALO_050 + FRINGE_050 + RIM_050,
         "0.75": HALO_075 + FRINGE_075 + RIM_075, "1.0": HALO_100 + FRINGE_100 + RIM_100}
CORES = {"0.25": CORE_025 + FILL_025, "0.50": CORE_050 + FILL_050,
         "0.75": CORE_075 + FILL_075, "1.0": CORE_100 + FILL_100}

# ---- geometry (pixels) ----
FRAME_W, FRAME_H = 552, 406
PX_X = FRAME_W / (AX_MAX - AX_MIN)
PX_Y = FRAME_H / (AX_MAX - AX_MIN)
FONT = "Liberation Serif"
TEXT_COLOR = "#1a1a1a"
AXIS_COLOR = "#c4c4c4"
TICK_LEN = 6
DOT = 7.5


def make_panel(outliers, band, core, phi, bl, br, bt, bb):
    p = figure(frame_width=bl + FRAME_W + br, frame_height=bt + FRAME_H + bb,
               x_range=Range1d(AX_MIN - bl / PX_X, AX_MAX + br / PX_X),
               y_range=Range1d(AX_MIN - bb / PX_Y, AX_MAX + bt / PX_Y),
               x_axis_type=None, y_axis_type=None,
               output_backend="svg", toolbar_location=None,
               min_border=0, min_border_left=0, min_border_right=0,
               min_border_top=0, min_border_bottom=0)
    p.outline_line_color = None
    n = len(TICKS)

    # axes drawn from the tick list
    p.segment(x0=[AX_MIN, AX_MIN], y0=[AX_MIN, AX_MIN], x1=[AX_MAX, AX_MIN], y1=[AX_MIN, AX_MAX],
              line_color=AXIS_COLOR, line_width=1)
    p.segment(x0=TICKS, y0=[AX_MIN] * n, x1=TICKS, y1=[AX_MIN + TICK_LEN / PX_Y] * n,
              line_color=AXIS_COLOR, line_width=1)
    p.segment(x0=[AX_MIN] * n, y0=TICKS, x1=[AX_MIN + TICK_LEN / PX_X] * n, y1=TICKS,
              line_color=AXIS_COLOR, line_width=1)
    p.text(x=TICKS, y=[AX_MIN - 21 / PX_Y] * n, text=TICK_LABELS,
           text_align="center", text_baseline="top", text_font=value(FONT),
           text_font_size=value("31px"), text_color="#262626")
    p.text(x=[AX_MIN - 19 / PX_X] * n, y=TICKS, text=TICK_LABELS,
           text_align="right", text_baseline="middle", text_font=value(FONT),
           text_font_size=value("31px"), text_color="#262626")

    pts = list(outliers) + list(band) + sorted(core, key=lambda t: t[2])
    src = ColumnDataSource(dict(x=[t[0] / 100 for t in pts],
                                y=[t[1] / 100 for t in pts],
                                c=[PALETTE[t[2]] for t in pts]))
    p.scatter("x", "y", source=src, size=DOT, fill_color="c", line_color=None)

    p.line([AX_MIN, AX_MAX], [AX_MIN, AX_MAX], line_color="#ff0000", line_width=2)
    p.line([AX_MIN, AX_MAX - BAND], [AX_MIN + BAND, AX_MAX], line_color="black", line_width=1)
    p.line([AX_MIN + BAND, AX_MAX], [AX_MIN, AX_MAX - BAND], line_color="black", line_width=1)

    # in-panel annotation
    p.add_layout(Label(x=AX_MIN + 23 / PX_X, y=AX_MAX - 41 / PX_Y,
                       text=f"R={R_VALUE}, φ={phi}", text_font=FONT,
                       text_font_size="34px", text_color=TEXT_COLOR,
                       text_align="left", text_baseline="alphabetic"))
    # x axis label with subscript
    p.add_layout(Label(x=AX_MIN + 60 / PX_X, y=AX_MIN - 77 / PX_Y, text=X_LABEL,
                       text_font=FONT, text_font_size="34px", text_color=TEXT_COLOR,
                       text_align="left", text_baseline="alphabetic"))
    p.add_layout(Label(x=AX_MIN + 462 / PX_X, y=AX_MIN - 100 / PX_Y, text=X_SUB,
                       text_font=FONT, text_font_size="24px", text_color=TEXT_COLOR,
                       text_align="left", text_baseline="alphabetic"))
    # y axis label (rotated) with subscript
    p.add_layout(Label(x=AX_MIN - 129 / PX_X, y=AX_MIN + 70 / PX_Y, text=Y_LABEL,
                       text_font=FONT, text_font_size="34px", text_color=TEXT_COLOR,
                       text_align="left", text_baseline="alphabetic",
                       angle=math.pi / 2, angle_units="rad"))
    p.add_layout(Label(x=AX_MIN - 110 / PX_X, y=AX_MIN + 326 / PX_Y, text=Y_SUB,
                       text_font=FONT, text_font_size="24px", text_color=TEXT_COLOR,
                       text_align="left", text_baseline="alphabetic",
                       angle=math.pi / 2, angle_units="rad"))
    return p


figs = []
for k in range(6):
    left_col = (k % 2 == 0)
    first_row = (k < 2)
    phi = PHI_LABELS[k]
    figs.append(make_panel(PANEL_OUTLIERS[k], BANDS[phi], CORES[phi], phi,
                           157 if left_col else 149, 64 if left_col else 40,
                           33 if first_row else 25, 142))
figs.append(make_panel(PANEL_OUTLIERS[6], BANDS[PHI_LABELS[6]], CORES[PHI_LABELS[6]],
                       PHI_LABELS[6], 541, 40, 25, 115))

layout = column(row(figs[0], figs[1]), row(figs[2], figs[3]),
                row(figs[4], figs[5]), figs[6])

open("out.html", "w").write(file_html(layout, INLINE, title="Droplet directions"))
